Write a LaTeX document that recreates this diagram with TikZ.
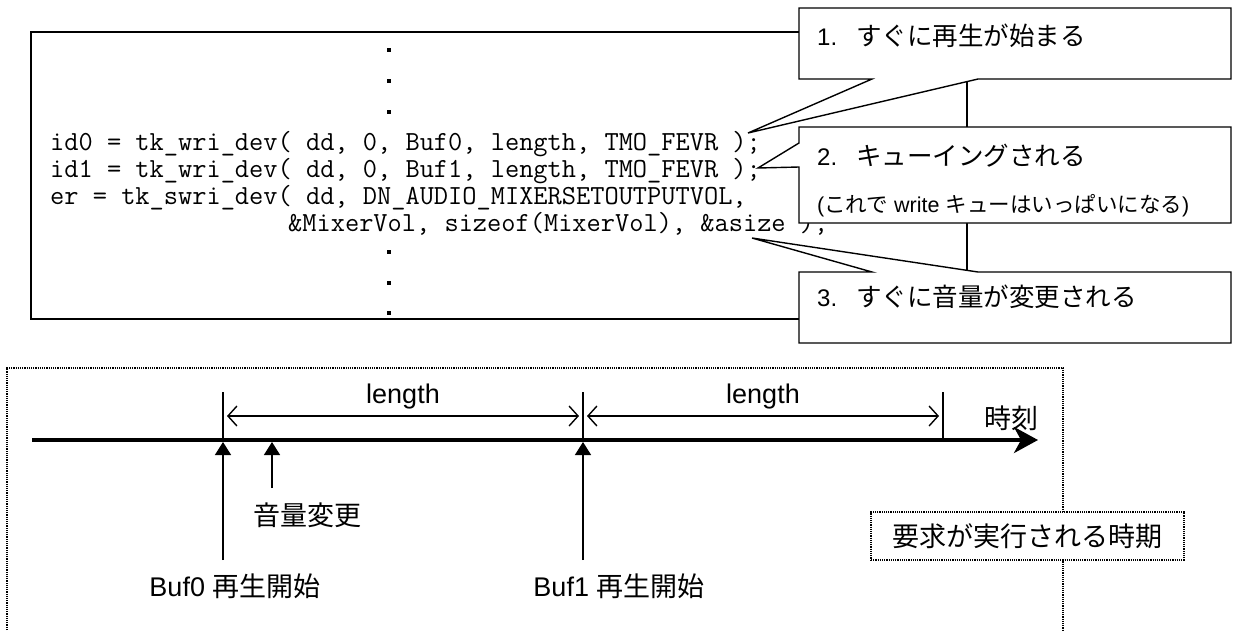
\documentclass[tikz,border=0pt]{standalone}
\usepackage{fontspec}
\setmainfont{Liberation Sans}
\newfontfamily\jp{Noto Sans CJK JP}
\usetikzlibrary{arrows.meta,positioning}

\begin{document}
\begin{tikzpicture}[x=1pt, y=-1pt,
    code/.style={anchor=base west, inner sep=0pt, font=\ttfamily\fontsize{27.6}{27}\selectfont},
    vdot/.style={fill, inner sep=0pt, minimum size=4pt},
    callout/.style={draw, fill=white, line width=1.4pt},
    note/.style={anchor=base west, inner sep=0pt, font=\fontsize{24}{28}\selectfont},
    lbl/.style={inner sep=0pt, font=\fontsize{27}{32}\selectfont},
    tick/.style={line width=1.4pt},
    up/.style={line width=1.4pt, -{Triangle[length=13pt,width=16pt]}, shorten >=2pt},
    span/.style={line width=1.4pt, {Straight Barb[length=9pt,width=20pt]}-{Straight Barb[length=9pt,width=20pt]}, shorten <=4pt, shorten >=4pt},
    frame/.style={densely dotted, line width=1.2pt}]
  \fill[white] (0,0) rectangle (1234,630);
  \useasboundingbox (0,0) rectangle (1234,630);

  % program listing
  \draw[line width=1.6pt] (31,32) rectangle (967,319);
  \foreach \y in {50,81,112,252,283,313}
    \node[vdot] (dot\y) at (389,\y) {};
  \node[code] (id0) at (50,150) {id0 = tk\_wri\_dev( dd, 0, Buf0, length, TMO\_FEVR );};
  \node[code] (id1) at (50,177) {id1 = tk\_wri\_dev( dd, 0, Buf1, length, TMO\_FEVR );};
  \node[code] (er) at (50,204) {er = tk\_swri\_dev( dd, DN\_AUDIO\_MIXERSETOUTPUTVOL,};
  \node[code] (er2) at (288,231) {\&MixerVol, sizeof(MixerVol), \&asize );};

  % callouts
  \coordinate (tip1) at (748,133);
  \coordinate (tip2) at (758,168);
  \coordinate (tip3) at (752,238);
  \draw[callout] (799,8) -- (1231,8) -- (1231,79) -- (978,79) -- (tip1) -- (872,79) -- (799,79) -- cycle;
  \draw[callout] (799,127) -- (1231,127) -- (1231,223) -- (799,223) -- (799,167) -- (tip2) -- (799,143) -- cycle;
  \draw[callout] (799,272) -- (872,272) -- (tip3) -- (978,272) -- (1231,272) -- (1231,343) -- (799,343) -- cycle;
  \node[note] (c1) at (817,45) {1.\hspace{19pt}{\jp\fontsize{25.5}{28}\selectfont すぐに再生が始まる}};
  \node[note] (c2) at (817,165) {2.\hspace{19pt}{\jp\fontsize{25.5}{28}\selectfont キューイングされる}};
  \node[note, font=\fontsize{21.5}{24}\selectfont] (c2b) at (817,212) {({\jp これで} write {\jp キューはいっぱいになる})};
  \node[note] (c3) at (817,306) {3.\hspace{19pt}{\jp\fontsize{25.5}{28}\selectfont すぐに音量が変更される}};

  % time line
  \draw[frame] (7,630) -- (7,368) -- (1063,368) -- (1063,630);
  \node[draw, frame, fill=white, minimum width=313pt, minimum height=48pt, lbl] (when) at (1027.5,536) {\jp 要求が実行される時期};

  \coordinate (t0) at (32,440);
  \coordinate (tend) at (1038,440);
  \draw[line width=3.5pt, -{Stealth[length=24pt,width=26pt,inset=7pt]}] (t0) -- (tend);
  \node[lbl] (jikoku) at (1011,418) {\jp 時刻};

  \foreach \n/\x in {0/223,1/583,2/943} {
    \coordinate (m\n) at (\x,440);
    \coordinate (m\n top) at (\x,392);
    \coordinate (d\n) at (\x,416);
    \draw[tick] (m\n top) -- (m\n);
  }
  \draw[span] (d0) -- (d1);
  \draw[span] (d1) -- (d2);
  \node[lbl, anchor=base] (len1) at (403,403) {length};
  \node[lbl, anchor=base] (len2) at (763,403) {length};

  \node[lbl, anchor=base] (buf0) at (235,596) {Buf0 {\jp 再生開始}};
  \node[lbl, anchor=base] (buf1) at (619,596) {Buf1 {\jp 再生開始}};
  \node[lbl] (vol) at (307,515) {\jp 音量変更};
  \coordinate (a0) at (223,560);
  \coordinate (a1) at (583,560);
  \coordinate (v0) at (272,488);
  \coordinate (v1) at (272,440);
  \draw[up] (a0) -- (m0);
  \draw[up] (a1) -- (m1);
  \draw[up] (v0) -- (v1);
\end{tikzpicture}
\end{document}
